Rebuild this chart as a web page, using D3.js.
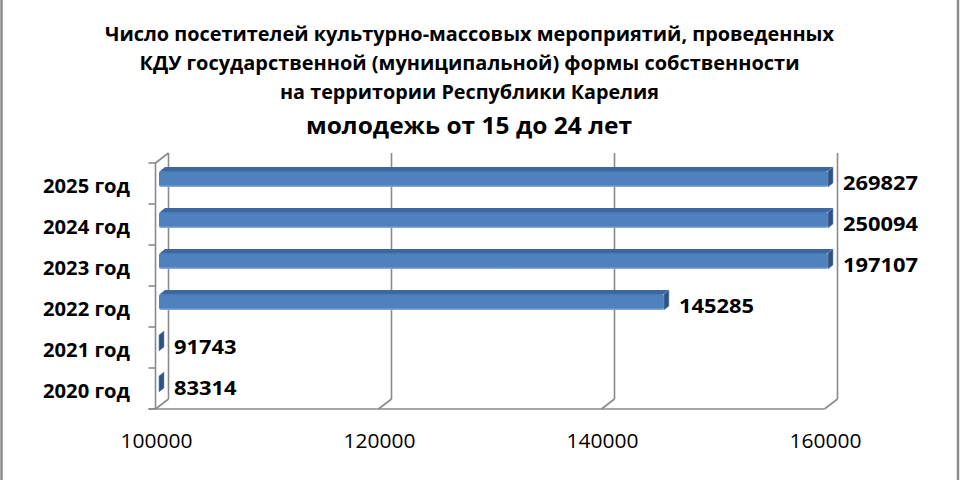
<!DOCTYPE html>
<html>
<head>
<meta charset="utf-8">
<script src="https://cdn.jsdelivr.net/npm/d3@7"></script>
<style>
  body { margin: 0; background: #fff; }
  svg { display: block; }
</style>
</head>
<body>
<svg id="chart" width="960" height="480"></svg>
<script>
// ---------------- DATA ----------------
const titleLines = [
  "Число посетителей культурно-массовых мероприятий, проведенных",
  "КДУ государственной (муниципальной) формы собственности",
  "на территории Республики Карелия"
];
const subtitle = "молодежь от 15 до 24 лет";

const years = ["2020 год", "2021 год", "2022 год", "2023 год", "2024 год", "2025 год"];
const visitors = [83314, 91743, 145285, 197107, 250094, 269827];
const xTicks = [100000, 120000, 140000, 160000];

const svg = d3.select("#chart");

// depth of the 3d box (back wall offset from front plane)
const DX = 13, DY = -10;
const gridColor = "#8a8a8a";

// front plane scales
const x = d3.scaleLinear()
  .domain([100000, 160000])
  .range([155.5, 824.5])
  .clamp(true);

const y = d3.scaleBand()
  .domain(years.slice().reverse())
  .range([163, 409]);

const yTop = y.range()[0], yBottom = y.range()[1];

// ---------------- GRADIENTS ----------------
const defs = svg.append("defs");
const gFront = defs.append("linearGradient")
  .attr("id", "barFront").attr("x1", 0).attr("y1", 0).attr("x2", 0).attr("y2", 1);
gFront.append("stop").attr("offset", "0%").attr("stop-color", "#4779b6");
gFront.append("stop").attr("offset", "15%").attr("stop-color", "#4f81bd");
gFront.append("stop").attr("offset", "85%").attr("stop-color", "#4f81bd");
gFront.append("stop").attr("offset", "100%").attr("stop-color", "#8eaedb");

// ---------------- BORDER ----------------
svg.append("rect")
  .attr("x", 1.5).attr("y", -10)
  .attr("width", 956.5).attr("height", 500)
  .attr("fill", "none")
  .attr("stroke", "#8c8c8c")
  .attr("stroke-width", 2.5);

// ---------------- TITLE ----------------
const titleWidths = [729, 660, 379];
const titleBaselines = [41, 70, 99];
titleLines.forEach((t, i) => {
  svg.append("text")
    .attr("x", 469.5)
    .attr("y", titleBaselines[i])
    .attr("text-anchor", "middle")
    .attr("font-family", "Open Sans")
    .attr("font-weight", "bold")
    .attr("font-size", 20)
    .attr("textLength", titleWidths[i])
    .attr("lengthAdjust", "spacingAndGlyphs")
    .attr("fill", "#000")
    .text(t);
});

svg.append("text")
  .attr("x", 469)
  .attr("y", 134)
  .attr("text-anchor", "middle")
  .attr("font-family", "Open Sans")
  .attr("font-weight", "bold")
  .attr("font-size", 22.5)
  .attr("textLength", 326)
  .attr("lengthAdjust", "spacingAndGlyphs")
  .attr("fill", "#000")
  .text(subtitle);

// ---------------- WALLS AND GRID ----------------
const grid = svg.append("g")
  .attr("stroke", gridColor)
  .attr("stroke-width", 1.6)
  .attr("fill", "none");

// back wall gridlines (left wall back edge is the first one)
xTicks.forEach(v => {
  grid.append("line")
    .attr("x1", x(v) + DX).attr("y1", yTop + DY)
    .attr("x2", x(v) + DX).attr("y2", yBottom + DY);
  // floor diagonal
  grid.append("line")
    .attr("x1", x(v)).attr("y1", yBottom)
    .attr("x2", x(v) + DX).attr("y2", yBottom + DY);
});

// left wall front edge
grid.append("line")
  .attr("x1", x(100000)).attr("y1", yTop)
  .attr("x2", x(100000)).attr("y2", yBottom);
// left wall top diagonal
grid.append("line")
  .attr("x1", x(100000)).attr("y1", yTop)
  .attr("x2", x(100000) + DX).attr("y2", yTop + DY);
// floor front edge
grid.append("line")
  .attr("x1", x(100000) - 7).attr("y1", yBottom)
  .attr("x2", x(160000)).attr("y2", yBottom);

// category ticks
const tickYs = years.map(c => y(c)).concat([yBottom]);
tickYs.forEach(ty => {
  grid.append("line")
    .attr("x1", x(100000) - 7).attr("y1", ty)
    .attr("x2", x(100000)).attr("y2", ty);
});

// ---------------- BARS ----------------
const barOff = 3.5;     // bar front face offset inside depth
const barDX = 5, barDY = -4;
const barY = c => y(c) + 8;
const barH = 16;

const bars = svg.append("g");
years.forEach((c, i) => {
  const x0 = x(100000) + barOff;
  const x1 = x(visitors[i]) + barOff;
  const y0 = barY(c);

  if (x1 > x0) {
    // top face
    bars.append("polygon")
      .attr("points", [
        [x0 + 1, y0], [x1, y0], [x1 + barDX, y0 + barDY], [x0 + 1 + barDX, y0 + barDY]
      ].map(p => p.join(",")).join(" "))
      .attr("fill", "#3d679f");

    // front face
    bars.append("rect")
      .attr("x", x0).attr("y", y0)
      .attr("width", x1 - x0).attr("height", barH)
      .attr("rx", 2)
      .attr("fill", "url(#barFront)");
  }

  // end face
  bars.append("polygon")
    .attr("points", [
      [x1, y0], [x1 + barDX, y0 + barDY], [x1 + barDX, y0 + barDY + barH], [x1, y0 + barH]
    ].map(p => p.join(",")).join(" "))
    .attr("fill", "#2d5283")
    .attr("stroke", "#6b8fc2")
    .attr("stroke-width", 0.6);

  // value label
  const label = String(visitors[i]);
  svg.append("text")
    .attr("x", x1 + 15)
    .attr("y", y(c) + y.bandwidth() / 2 + 6)
    .attr("font-family", "Open Sans")
    .attr("font-weight", "bold")
    .attr("font-size", 19.5)
    .attr("textLength", label.length * 12.5)
    .attr("lengthAdjust", "spacingAndGlyphs")
    .attr("fill", "#000")
    .text(label);

  // category label
  svg.append("text")
    .attr("x", 130)
    .attr("y", y(c) + y.bandwidth() / 2 + 9)
    .attr("text-anchor", "end")
    .attr("font-family", "Open Sans")
    .attr("font-weight", "bold")
    .attr("font-size", 19.5)
    .attr("textLength", 87)
    .attr("lengthAdjust", "spacingAndGlyphs")
    .attr("fill", "#000")
    .text(c);
});

// ---------------- X AXIS LABELS ----------------
xTicks.forEach(v => {
  svg.append("text")
    .attr("x", x(v) + 1)
    .attr("y", 448)
    .attr("text-anchor", "middle")
    .attr("font-family", "Open Sans")
    .attr("font-size", 20)
    .attr("textLength", 72)
    .attr("lengthAdjust", "spacingAndGlyphs")
    .attr("fill", "#000")
    .text(v);
});
</script>
</body>
</html>
